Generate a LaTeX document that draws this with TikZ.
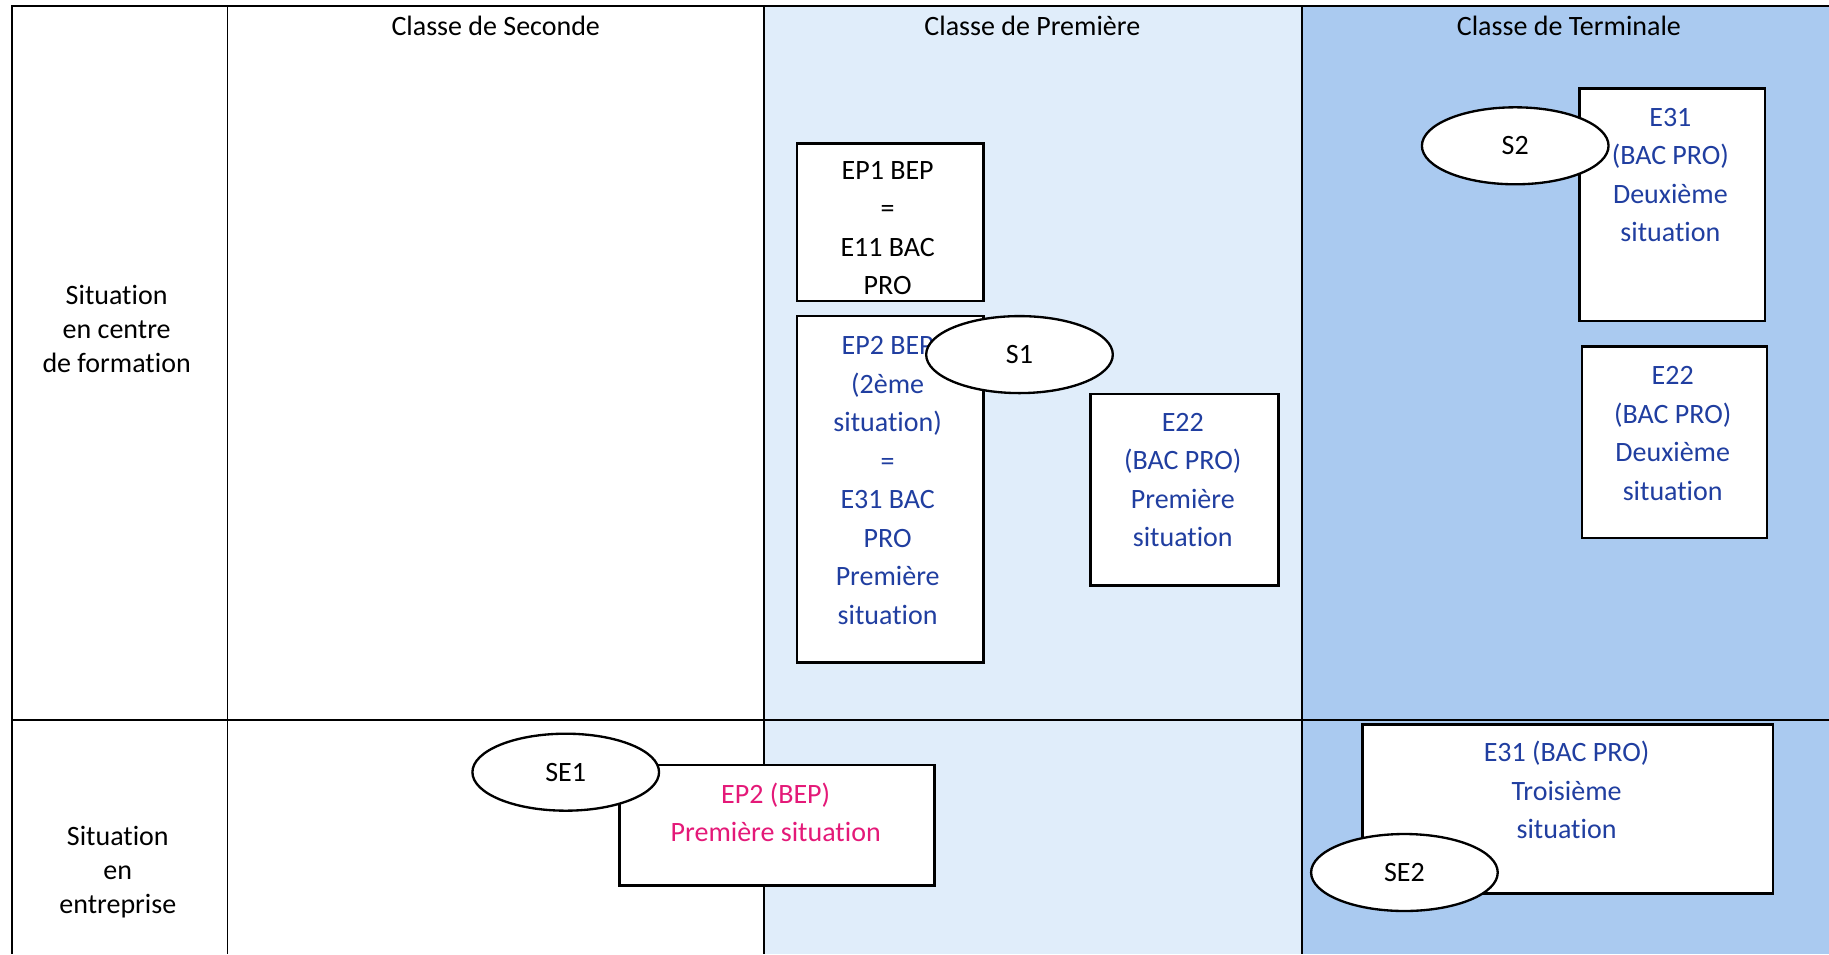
\documentclass[tikz,border=0pt]{standalone}
\usepackage{fontspec}
\setmainfont{Carlito}[Ligatures=NoCommon]
\usetikzlibrary{shapes.geometric}
\definecolor{premiere}{RGB}{224,237,250}
\definecolor{terminale}{RGB}{170,202,240}
\definecolor{bluetxt}{RGB}{32,62,160}
\definecolor{pinktxt}{RGB}{228,25,120}
\begin{document}
\begin{tikzpicture}[x=0.5pt,y=-0.5pt,
  grid/.style={line width=0.8pt},
  box/.style={draw, line width=1pt, fill=white, anchor=north west, inner sep=0pt},
  oval/.style={draw, ellipse, line width=1pt, fill=white, minimum width=80pt, minimum height=33pt, inner sep=0pt, font=\fontsize{12}{14.6}\selectfont},
  txt/.style={align=center, font=\fontsize{12}{16.5}\selectfont, inner sep=0pt},
  lbl/.style={align=center, font=\fontsize{12}{14.6}\selectfont, inner sep=0pt},
  blue/.style={text=bluetxt},
  pink/.style={text=pinktxt}]
\useasboundingbox (0,0) rectangle (1568,818);
% column backgrounds
\fill[premiere] (655,5) rectangle (1116,818);
\fill[terminale] (1116,5) rectangle (1568,818);
% grid
\coordinate (tl) at (10,5);
\coordinate (tr) at (1568,5);
\coordinate (bl) at (10,818);
\draw[grid] (tr) -- (tl) -- (bl);
\draw[grid] (195,5) -- (195,818);
\draw[grid] (655,5) -- (655,818);
\draw[grid] (1116,5) -- (1116,818);
\draw[grid] (10,617) -- (1568,617);
% headers
\node[lbl] (h2) at (425,22) {Classe de Seconde};
\node[lbl] (h1) at (885,22) {Classe de Premi\`ere};
\node[lbl] (ht) at (1345,22) {Classe de Terminale};
% row labels
\node[lbl] (r1) at (100,282) {Situation\\en centre\\de formation};
\node[lbl] (r2) at (101,748) {Situation\\en\\entreprise};
% boxes
\node[box, minimum width=80pt, minimum height=67.5pt] (ep1) at (682,122) {};
\node[txt] (ep1t) at (761,195.5) {EP1 BEP\\=\\E11 BAC\\PRO};
\node[box, minimum width=80pt, minimum height=148.5pt] (ep2) at (682,270) {};
\node[txt, blue] (ep2t) at (761,412) {EP2 BEP\\(2\`eme\\situation)\\=\\E31 BAC\\PRO\\Premi\`ere\\situation};
\node[box, minimum width=80.5pt, minimum height=82pt] (e22a) at (934,337) {};
\node[txt, blue] (e22at) at (1014,411.5) {E22\\(BAC PRO)\\Premi\`ere\\situation};
\node[box, minimum width=79.5pt, minimum height=99.5pt] (e31) at (1353,75) {};
\node[txt, blue] (e31t) at (1432,150) {E31\\(BAC PRO)\\Deuxi\`eme\\situation};
\node[box, minimum width=79.5pt, minimum height=82pt] (e22b) at (1355,296) {};
\node[txt, blue] (e22bt) at (1434,371.5) {E22\\(BAC PRO)\\Deuxi\`eme\\situation};
\node[box, minimum width=135pt, minimum height=51.5pt] (ep2bep) at (530,655) {};
\node[txt, pink] (ep2bept) at (665,696.5) {EP2 (BEP)\\Premi\`ere situation};
\node[box, minimum width=176pt, minimum height=72.5pt] (e31c) at (1167,620) {};
\node[txt, blue] (e31ct) at (1343,677.5) {E31 (BAC PRO)\\Troisi\`eme\\situation};
% ellipses
\node[oval] (s1) at (874,304) {S1};
\node[oval] (s2) at (1299,125) {S2};
\node[oval] (se1) at (485,662) {SE1};
\node[oval] (se2) at (1204,748) {SE2};
\end{tikzpicture}
\end{document}
